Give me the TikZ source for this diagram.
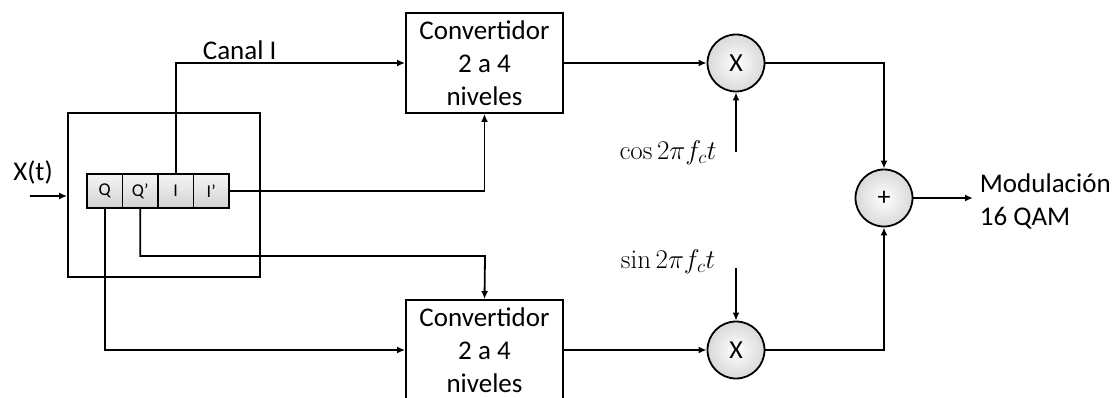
\RequirePackage{fix-cm}
\documentclass[tikz,border=0pt]{standalone}
\usepackage{fontspec}
\setmainfont{Carlito}
\setmathrm{Latin Modern Roman}
\usetikzlibrary{arrows.meta,calc}
\begin{document}
\begin{tikzpicture}[x=1pt,y=-1pt,
  line width=1.8pt,
  arr/.style={-{Latex[length=8pt,width=7pt]}},
  convbox/.style={draw, fill=white, minimum width=157pt, minimum height=100pt, inner sep=0pt, align=center, font=\fontsize{27}{33}\selectfont},
  cell/.style={draw, line width=1.3pt, top color=gray!8, bottom color=gray!35, minimum width=35.5pt, minimum height=34pt, inner sep=0pt, font=\fontsize{18}{20}\selectfont},
  opcircle/.style={draw, circle, minimum size=57pt, inner sep=0pt, shading=radial, inner color=white, outer color=gray!30, font=\fontsize{26}{30}\selectfont},
  lbl/.style={font=\fontsize{27}{33}\selectfont, inner sep=0pt},
  mathlbl/.style={font=\fontsize{27}{30}\selectfont, inner sep=0pt}
]
\useasboundingbox (0,0) rectangle (1117,398);
% outer box
\node[draw, minimum width=192pt, minimum height=164pt, inner sep=0pt] (outer) at (164,195) {};
% register cells
\node[cell] (cQ)  at (104.75,191) {Q};
\node[cell] (cQp) at (140.25,191) {Q’};
\node[cell] (cI)  at (175.75,191) {I};
\node[cell] (cIp) at (211.25,191) {I’};
% converters
\node[convbox] (conv1) at (484.5,63) {Convertidor\\2 a 4\\niveles};
\node[convbox] (conv2) at (484.5,350) {Convertidor\\2 a 4\\niveles};
% multipliers and adder
\node[opcircle] (mul1) at (736,63) {X};
\node[opcircle] (mul2) at (736,350) {X};
\node[opcircle] (sum)  at (884,198) {+};
% labels
\node[lbl] (xt) at (33,172) {X(t)};
\node[lbl, anchor=base west] (canal) at (202,60) {Canal I};
\node[mathlbl] (cos) at (668,153) {$\cos 2\pi f_c t$};
\node[mathlbl] (sin) at (668,262) {$\sin 2\pi f_c t$};
\node[lbl, anchor=west, align=left] (out) at (979,201) {Modulación\\16 QAM};
% coordinates
\coordinate (xin) at (30,196);
\coordinate (qpturn) at (485,256);
\coordinate (cosin) at (736,152);
\coordinate (sinin) at (736,268);
\coordinate (outend) at (973,198);
% connectors
\draw[arr] (xin) -- (xin -| outer.west);
\draw[arr] (cI.north) |- (conv1.west);
\draw[arr] (cIp.east) -| (conv1.south);
\draw[arr] (cQp.south) |- (qpturn) -- (conv2.north);
\draw[arr] (cQ.south) |- (conv2.west);
\draw[arr] (conv1.east) -- (mul1.west);
\draw[arr] (conv2.east) -- (mul2.west);
\draw[arr] (cosin) -- (mul1.south);
\draw[arr] (sinin) -- (mul2.north);
\draw[arr] (mul1.east) -| (sum.north);
\draw[arr] (mul2.east) -| (sum.south);
\draw[arr] (sum.east) -- (outend);
\end{tikzpicture}
\end{document}
